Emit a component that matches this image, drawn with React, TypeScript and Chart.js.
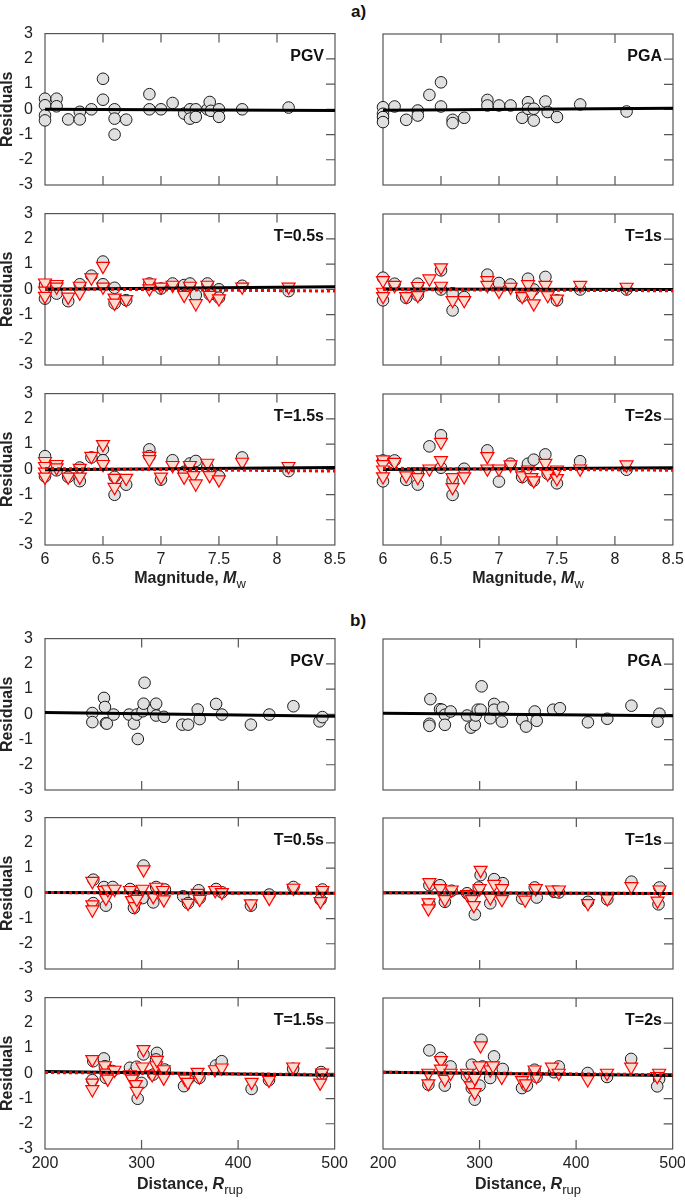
import React, { useEffect, useRef } from 'react';
import { Chart, registerables } from 'chart.js';

Chart.register(...registerables);

type P = [number, number];

const FONT = '"Liberation Sans", Arial, Helvetica, sans-serif';

// ---------- axis ticks ----------
const MAG_RANGE: P = [6, 8.5];
const DIST_RANGE: P = [200, 500];
const MAG_INNER_TICKS = [6.5, 7, 7.5, 8];
const DIST_INNER_TICKS = [300, 400];
const RES_INNER_TICKS = [-2, -1, 0, 1, 2];

// ---------- (a) residuals vs magnitude ----------
const magPgvCircles: P[] = [[6.0,0.42],[6.0,0.16],[6.0,-0.24],[6.0,-0.44],[6.1,0.42],[6.1,0.12],[6.2,-0.4],[6.3,-0.1],[6.3,-0.4],[6.4,0.0],[6.5,1.21],[6.5,0.38],[6.6,0.0],[6.6,-0.37],[6.6,-1.0],[6.7,-0.41],[6.9,0.6],[6.9,0.0],[7.0,0.0],[7.1,0.25],[7.2,-0.17],[7.25,0.0],[7.25,-0.37],[7.3,0.0],[7.3,-0.3],[7.4,0.0],[7.42,0.29],[7.43,-0.06],[7.5,0.0],[7.5,-0.3],[7.7,0.0],[8.1,0.07]];
const magPgvLine: P[] = [[6, 0.0], [8.5, -0.05]];

const magPgaCircles: P[] = [[6.0,0.09],[6.0,-0.17],[6.0,-0.3],[6.0,-0.5],[6.1,0.12],[6.2,-0.41],[6.3,-0.04],[6.3,-0.24],[6.4,0.58],[6.5,1.08],[6.5,0.12],[6.6,-0.41],[6.6,-0.54],[6.7,-0.33],[6.9,0.38],[6.9,0.16],[7.0,0.16],[7.1,0.16],[7.2,-0.33],[7.25,0.29],[7.25,0.03],[7.3,-0.44],[7.3,0.03],[7.4,0.32],[7.42,-0.1],[7.5,-0.3],[7.7,0.2],[8.1,-0.08]];
const magPgaLine: P[] = [[6, -0.03], [8.5, 0.05]];

const magT05Circles: P[] = [[6.0,0.17],[6.0,-0.37],[6.1,-0.17],[6.2,-0.47],[6.3,0.2],[6.4,0.54],[6.5,1.1],[6.5,0.2],[6.6,0.06],[6.6,-0.56],[6.7,-0.43],[6.9,0.23],[7.0,0.03],[7.1,0.23],[7.2,0.17],[7.25,0.23],[7.3,-0.23],[7.4,0.23],[7.42,-0.2],[7.5,0.0],[7.5,-0.33],[7.7,0.14],[8.1,-0.07]];
const magT05Triangles: P[] = [[6.0,0.26],[6.0,-0.06],[6.0,-0.27],[6.1,0.2],[6.1,0.1],[6.2,-0.3],[6.3,0.13],[6.3,-0.14],[6.4,0.46],[6.5,0.92],[6.5,0.1],[6.6,-0.34],[6.6,-0.54],[6.7,-0.4],[6.9,0.26],[6.9,0.03],[7.0,0.1],[7.1,0.17],[7.2,-0.23],[7.25,0.13],[7.3,-0.56],[7.4,0.17],[7.42,-0.23],[7.5,-0.37],[7.7,0.1],[8.1,0.1]];
const magT05Line: P[] = [[6, 0.0], [8.5, 0.1]];
const magT05RedLine: P[] = [[6, 0.02], [8.5, -0.07]];

const magT1Circles: P[] = [[6.0,0.47],[6.0,-0.43],[6.1,0.23],[6.2,-0.33],[6.3,0.23],[6.3,-0.23],[6.5,0.76],[6.5,0.0],[6.6,-0.15],[6.6,-0.83],[6.7,-0.3],[6.9,0.59],[7.0,0.26],[7.1,0.2],[7.2,-0.27],[7.25,0.43],[7.3,0.0],[7.4,0.5],[7.5,-0.43],[7.7,0.0],[8.1,0.0]];
const magT1Triangles: P[] = [[6.0,0.36],[6.0,-0.1],[6.0,-0.27],[6.1,0.17],[6.2,-0.27],[6.3,0.13],[6.3,-0.23],[6.4,0.43],[6.5,0.87],[6.5,0.14],[6.6,-0.43],[6.7,-0.43],[6.9,0.36],[6.9,0.17],[7.0,-0.06],[7.1,0.1],[7.2,-0.27],[7.25,0.2],[7.28,-0.2],[7.3,-0.56],[7.4,0.17],[7.42,-0.23],[7.5,-0.37],[7.7,0.17],[8.1,0.1]];
const magT1Line: P[] = [[6, 0.02], [8.5, 0.0]];
const magT1RedLine: P[] = [[6, 0.0], [8.5, -0.05]];

const magT15Circles: P[] = [[6.0,0.52],[6.0,-0.28],[6.1,-0.04],[6.2,-0.3],[6.3,0.07],[6.3,-0.47],[6.4,0.47],[6.5,0.79],[6.5,0.36],[6.6,-0.3],[6.6,-1.01],[6.7,-0.61],[6.9,0.79],[6.9,0.52],[7.0,-0.41],[7.1,0.36],[7.2,-0.1],[7.25,0.23],[7.3,0.33],[7.4,0.09],[7.5,-0.27],[7.7,0.47],[8.1,-0.07]];
const magT15Triangles: P[] = [[6.0,0.32],[6.0,0.12],[6.0,-0.1],[6.0,-0.3],[6.1,0.2],[6.1,0.07],[6.2,-0.3],[6.3,0.05],[6.3,-0.3],[6.4,0.52],[6.5,0.99],[6.5,0.2],[6.6,-0.35],[6.6,-0.71],[6.7,-0.35],[6.9,0.52],[6.9,0.39],[7.0,-0.3],[7.1,0.16],[7.2,-0.3],[7.25,0.16],[7.28,-0.24],[7.3,-0.57],[7.4,0.25],[7.42,-0.24],[7.5,-0.41],[7.7,0.29],[8.1,0.12]];
const magT15Line: P[] = [[6, -0.02], [8.5, 0.07]];
const magT15RedLine: P[] = [[6, 0.03], [8.5, -0.07]];

const magT2Circles: P[] = [[6.0,0.36],[6.0,-0.47],[6.1,0.36],[6.2,-0.41],[6.3,-0.15],[6.3,-0.6],[6.4,0.92],[6.5,1.36],[6.5,0.07],[6.6,-0.44],[6.6,-1.01],[6.7,0.03],[6.9,0.76],[7.0,-0.48],[7.1,0.23],[7.2,-0.3],[7.25,0.23],[7.3,0.39],[7.3,-0.44],[7.4,0.6],[7.42,-0.17],[7.5,-0.55],[7.7,0.33],[8.1,-0.01]];
const magT2Triangles: P[] = [[6.0,0.39],[6.0,0.2],[6.0,-0.01],[6.0,-0.28],[6.1,0.29],[6.2,-0.24],[6.3,-0.07],[6.3,-0.31],[6.4,0.03],[6.5,1.09],[6.5,0.36],[6.6,-0.31],[6.6,-0.71],[6.7,-0.28],[6.9,0.52],[6.9,0.03],[7.0,0.03],[7.1,0.19],[7.2,-0.24],[7.25,-0.01],[7.28,-0.31],[7.3,-0.44],[7.4,0.25],[7.42,-0.17],[7.5,-0.35],[7.5,-0.01],[7.7,0.03],[8.1,0.19]];
const magT2Line: P[] = [[6, 0.0], [8.5, 0.07]];
const magT2RedLine: P[] = [[6, 0.05], [8.5, -0.03]];

// ---------- (b) residuals vs distance ----------
const distPgvCircles: P[] = [[249,0.05],[249,-0.31],[261,0.65],[262,0.29],[263,-0.35],[264,-0.37],[271,-0.01],[287,-0.01],[292,-0.37],[295,-0.01],[296,-0.98],[301,0.12],[302,0.42],[303,1.25],[312,0.19],[315,0.42],[315,-0.05],[323,-0.1],[342,-0.41],[348,-0.41],[358,0.19],[360,-0.19],[377,0.41],[383,-0.01],[413,-0.41],[432,-0.01],[457,0.32],[484,-0.28],[487,-0.11]];
const distPgvLine: P[] = [[200, 0.07], [500, -0.08]];

const distPgaCircles: P[] = [[249,0.61],[248,-0.37],[248,-0.45],[259,0.21],[261,0.19],[264,-0.01],[264,-0.41],[270,0.12],[287,-0.04],[291,-0.52],[295,-0.41],[296,-0.04],[298,0.19],[301,0.19],[302,1.12],[311,-0.15],[315,0.42],[315,0.19],[323,-0.28],[324,0.28],[344,-0.21],[348,-0.48],[357,0.12],[359,-0.25],[376,0.19],[383,0.25],[412,-0.31],[432,-0.17],[457,0.35],[486,0.03],[484,-0.28]];
const distPgaLine: P[] = [[200, 0.05], [500, -0.05]];

const distT05Circles: P[] = [[250,0.54],[250,-0.39],[261,0.25],[263,-0.49],[270,0.25],[288,0.17],[292,-0.58],[295,-0.12],[301,-0.19],[302,1.1],[312,-0.36],[315,0.25],[324,0.15],[343,-0.12],[348,-0.39],[359,0.12],[360,-0.19],[377,0.17],[383,0.04],[413,-0.49],[432,-0.05],[457,0.25],[487,0.15],[485,-0.25]];
const distT05Triangles: P[] = [[249,0.48],[249,-0.45],[249,-0.65],[261,0.12],[263,-0.19],[265,0.15],[272,0.17],[288,0.12],[290,-0.28],[293,-0.52],[295,-0.23],[301,0.17],[302,0.94],[312,-0.12],[315,0.25],[322,0.12],[323,-0.25],[348,-0.39],[358,0.01],[360,-0.23],[376,0.12],[383,0.04],[413,-0.41],[432,-0.19],[457,0.21],[487,0.12],[485,-0.32]];
const distT05Line: P[] = [[200, 0.03], [500, 0.0]];
const distT05RedLine: P[] = [[200, 0.03], [500, -0.01]];

const distT1Circles: P[] = [[248,0.33],[248,-0.43],[259,0.33],[264,-0.33],[271,0.11],[287,0.01],[291,-0.09],[295,-0.83],[299,0.24],[301,0.73],[311,-0.39],[315,0.57],[324,0.41],[344,-0.2],[357,0.24],[359,-0.16],[377,0.07],[382,0.04],[412,-0.33],[432,-0.23],[457,0.47],[486,0.24],[485,-0.43]];
const distT1Triangles: P[] = [[248,0.44],[247,-0.36],[247,-0.6],[259,0.2],[264,-0.23],[271,0.15],[287,-0.03],[292,-0.23],[294,-0.47],[300,0.2],[301,0.93],[311,-0.16],[315,0.37],[323,0.2],[323,-0.23],[347,-0.25],[358,0.2],[375,0.15],[382,0.15],[412,-0.39],[432,-0.2],[457,0.28],[486,0.15],[484,-0.29]];
const distT1Line: P[] = [[200, 0.03], [500, 0.0]];
const distT1RedLine: P[] = [[200, 0.03], [500, 0.0]];

const distT15Circles: P[] = [[250,0.48],[249,-0.27],[261,0.59],[262,0.28],[263,-0.18],[270,0.09],[288,0.22],[292,0.02],[295,0.26],[296,-1.01],[300,-0.38],[302,0.75],[312,-0.05],[316,0.81],[315,0.55],[324,0.15],[344,-0.51],[348,-0.24],[360,-0.18],[377,0.31],[383,0.48],[414,-0.62],[432,-0.27],[457,0.18],[486,0.05],[487,-0.05]];
const distT15Triangles: P[] = [[249,0.55],[249,-0.38],[249,-0.64],[262,0.31],[263,0.02],[265,-0.22],[272,0.13],[288,-0.05],[290,-0.22],[294,-0.44],[295,-0.71],[301,0.26],[302,0.95],[311,-0.05],[315,0.31],[316,0.52],[323,0.15],[323,-0.18],[345,-0.22],[348,-0.35],[358,0.05],[360,-0.14],[376,0.15],[383,0.22],[414,-0.35],[432,-0.27],[457,0.26],[487,0.02],[485,-0.38]];
const distT15Line: P[] = [[200, 0.07], [500, -0.08]];
const distT15RedLine: P[] = [[200, 0.03], [500, -0.05]];

const distT2Circles: P[] = [[248,0.92],[247,-0.44],[260,0.62],[264,-0.48],[270,0.28],[287,-0.11],[292,0.35],[292,-0.58],[295,-1.04],[300,-0.48],[302,1.34],[303,0.28],[311,-0.18],[315,0.68],[324,0.18],[344,-0.58],[349,-0.48],[357,0.15],[359,-0.14],[377,0.05],[382,0.28],[412,0.02],[432,-0.14],[457,0.58],[486,-0.22],[484,-0.51]];
const distT2Triangles: P[] = [[247,0.02],[247,-0.4],[260,0.52],[260,0.18],[264,-0.22],[270,0.02],[287,0.02],[291,-0.48],[295,-0.18],[295,-0.75],[300,0.31],[301,1.11],[311,0.15],[314,0.31],[323,-0.14],[344,-0.27],[348,-0.4],[357,0.15],[359,-0.11],[375,0.26],[382,0.02],[412,-0.24],[432,0.02],[457,0.26],[486,0.02],[484,-0.11]];
const distT2Line: P[] = [[200, 0.05], [500, -0.08]];
const distT2RedLine: P[] = [[200, 0.05], [500, -0.05]];

// ---------- layout ----------
const PLOT_W = 290;
const PLOT_H = 151;
const Y_AXIS_W = 45;
const X_AXIS_H = 30;
const PAD_TOP = 10;
const PAD_RIGHT = 14;
const COL_LEFT = [45, 383];

const framePlugin = {
  id: 'frame',
  beforeDatasetsDraw(chart: any, _args: any, opts: any) {
    const { ctx, chartArea } = chart;
    const { left, right, top, bottom } = chartArea;
    const xs = chart.scales.x;
    const ys = chart.scales.y;
    ctx.save();
    ctx.strokeStyle = '#555555';
    ctx.lineWidth = 1.2;
    ctx.strokeRect(left, top, right - left, bottom - top);
    ctx.beginPath();
    for (const v of opts.xTicks || []) {
      const px = xs.getPixelForValue(v);
      ctx.moveTo(px, top);
      ctx.lineTo(px, top + 9);
      ctx.moveTo(px, bottom);
      ctx.lineTo(px, bottom - 9);
    }
    for (const v of opts.yTicks || []) {
      const py = ys.getPixelForValue(v);
      ctx.moveTo(right, py);
      ctx.lineTo(right - 9, py);
    }
    ctx.stroke();
    ctx.restore();
  },
};

interface PanelProps {
  col: number;
  plotTop: number;
  kind: 'mag' | 'dist';
  label: string;
  circles: P[];
  triangles?: P[];
  line: P[];
  redLine?: P[];
  showX: boolean;
}

function Panel(props: PanelProps) {
  const ref = useRef<HTMLCanvasElement | null>(null);
  const plotLeft = COL_LEFT[props.col];
  const showY = props.col === 0;
  const cw = Y_AXIS_W + PLOT_W + PAD_RIGHT;
  const ch = PAD_TOP + PLOT_H + X_AXIS_H;

  useEffect(() => {
    const canvas = ref.current;
    if (!canvas) return;
    const toPts = (a: P[]) => a.map(([x, y]) => ({ x, y }));
    const datasets: any[] = [];
    if (props.redLine) {
      datasets.push({
        data: toPts(props.redLine), showLine: true, pointRadius: 0,
        borderColor: '#ff0000', borderWidth: 3, borderDash: [3, 3], order: 1, clip: false,
      });
    }
    datasets.push({
      data: toPts(props.line), showLine: true, pointRadius: 0,
      borderColor: '#000000', borderWidth: 3, order: 2, clip: false,
    });
    if (props.triangles) {
      datasets.push({
        data: toPts(props.triangles), pointStyle: 'triangle', pointRotation: 180,
        pointRadius: 7.5, pointHoverRadius: 7.5, backgroundColor: '#fcdccf', borderColor: '#ff0000',
        borderWidth: 1.2, order: 3, clip: false,
      });
    }
    datasets.push({
      data: toPts(props.circles), pointStyle: 'circle', pointRadius: 5.8, pointHoverRadius: 5.8,
      backgroundColor: '#e0e0e0', borderColor: '#1a1a1a', borderWidth: 1, order: 4, clip: false,
    });
    const range = props.kind === 'mag' ? MAG_RANGE : DIST_RANGE;
    const chart = new Chart(canvas, {
      type: 'scatter',
      data: { datasets },
      options: {
        animation: false,
        responsive: false,
        maintainAspectRatio: false,
        devicePixelRatio: 1,
        events: [],
        layout: { padding: { left: 0, top: PAD_TOP, right: PAD_RIGHT, bottom: 0 } },
        plugins: {
          legend: { display: false },
          tooltip: { enabled: false },
          frame: {
            xTicks: props.kind === 'mag' ? MAG_INNER_TICKS : DIST_INNER_TICKS,
            yTicks: RES_INNER_TICKS,
          },
        } as any,
        scales: {
          x: {
            type: 'linear',
            min: range[0],
            max: range[1],
            afterFit: (s: any) => { s.height = X_AXIS_H; },
            grid: { display: false, drawTicks: false },
            border: { display: false },
            ticks: {
              display: props.showX,
              stepSize: props.kind === 'mag' ? 0.5 : 100,
              padding: 5,
              autoSkip: false,
              maxRotation: 0,
              color: '#222',
              font: { family: FONT, size: 16 },
              callback: (v: any) => String(Number(v)),
            },
          },
          y: {
            type: 'linear',
            min: -3,
            max: 3,
            afterFit: (s: any) => { s.width = Y_AXIS_W; },
            grid: { display: false, drawTicks: false },
            border: { display: false },
            ticks: {
              display: showY,
              stepSize: 1,
              padding: 12,
              color: '#222',
              font: { family: FONT, size: 16 },
            },
            title: {
              display: showY,
              text: 'Residuals',
              color: '#222',
              padding: 0,
              font: { family: FONT, size: 16, weight: 'bold', lineHeight: 1 },
            },
          },
        },
      } as any,
      plugins: [framePlugin],
    });
    // make the plot area exactly PLOT_W x PLOT_H and align it to its place on the page
    const ca = chart.chartArea;
    const nw = Math.round(cw + (PLOT_W - (ca.right - ca.left)));
    const nh = Math.round(ch + (PLOT_H - (ca.bottom - ca.top)));
    if (nw !== cw || nh !== ch) chart.resize(nw, nh);
    const ca2 = chart.chartArea;
    canvas.style.left = `${Math.round(plotLeft - ca2.left)}px`;
    canvas.style.top = `${Math.round(props.plotTop - ca2.top)}px`;
    return () => chart.destroy();
  }, []);

  return (
    <>
      <canvas
        ref={ref}
        width={cw}
        height={ch}
        style={{ position: 'absolute', left: plotLeft - Y_AXIS_W, top: props.plotTop - PAD_TOP, width: cw, height: ch }}
      />
      <div
        style={{
          position: 'absolute', left: plotLeft + PLOT_W - 11, top: props.plotTop + 22,
          transform: 'translate(-100%, -50%)', font: `bold 16px ${FONT}`, lineHeight: '1',
          color: '#111', whiteSpace: 'nowrap',
        }}
      >
        {props.label}
      </div>
    </>
  );
}

function XTitle(props: { cx: number; cy: number; main: string; sym: string; sub: string }) {
  return (
    <div
      style={{
        position: 'absolute', left: props.cx, top: props.cy, transform: 'translate(-50%, -50%)',
        font: `bold 16px ${FONT}`, lineHeight: '1', color: '#222', whiteSpace: 'nowrap',
      }}
    >
      {props.main}
      <i>{props.sym}</i>
      <span style={{ fontWeight: 'normal', fontSize: 13, position: 'relative', top: 5 }}>{props.sub}</span>
    </div>
  );
}

export default function App() {
  const A = [34, 214, 394];
  const B = [639, 818, 998];
  return (
    <div style={{ position: 'absolute', left: 0, top: 0, width: 685, height: 1201, background: '#fff', overflow: 'hidden' }}>
      <div style={{ position: 'absolute', left: 351, top: 11, transform: 'translateY(-50%)', font: `bold 17px ${FONT}`, lineHeight: '1', color: '#111' }}>a)</div>
      <div style={{ position: 'absolute', left: 350, top: 620, transform: 'translateY(-50%)', font: `bold 17px ${FONT}`, lineHeight: '1', color: '#111' }}>b)</div>

      <Panel col={0} plotTop={A[0]} kind="mag" label="PGV" circles={magPgvCircles} line={magPgvLine} showX={false} />
      <Panel col={1} plotTop={A[0]} kind="mag" label="PGA" circles={magPgaCircles} line={magPgaLine} showX={false} />
      <Panel col={0} plotTop={A[1]} kind="mag" label="T=0.5s" circles={magT05Circles} triangles={magT05Triangles} line={magT05Line} redLine={magT05RedLine} showX={false} />
      <Panel col={1} plotTop={A[1]} kind="mag" label="T=1s" circles={magT1Circles} triangles={magT1Triangles} line={magT1Line} redLine={magT1RedLine} showX={false} />
      <Panel col={0} plotTop={A[2]} kind="mag" label="T=1.5s" circles={magT15Circles} triangles={magT15Triangles} line={magT15Line} redLine={magT15RedLine} showX={true} />
      <Panel col={1} plotTop={A[2]} kind="mag" label="T=2s" circles={magT2Circles} triangles={magT2Triangles} line={magT2Line} redLine={magT2RedLine} showX={true} />
      <XTitle cx={190} cy={578} main="Magnitude, " sym="M" sub="w" />
      <XTitle cx={528} cy={578} main="Magnitude, " sym="M" sub="w" />

      <Panel col={0} plotTop={B[0]} kind="dist" label="PGV" circles={distPgvCircles} line={distPgvLine} showX={false} />
      <Panel col={1} plotTop={B[0]} kind="dist" label="PGA" circles={distPgaCircles} line={distPgaLine} showX={false} />
      <Panel col={0} plotTop={B[1]} kind="dist" label="T=0.5s" circles={distT05Circles} triangles={distT05Triangles} line={distT05Line} redLine={distT05RedLine} showX={false} />
      <Panel col={1} plotTop={B[1]} kind="dist" label="T=1s" circles={distT1Circles} triangles={distT1Triangles} line={distT1Line} redLine={distT1RedLine} showX={false} />
      <Panel col={0} plotTop={B[2]} kind="dist" label="T=1.5s" circles={distT15Circles} triangles={distT15Triangles} line={distT15Line} redLine={distT15RedLine} showX={true} />
      <Panel col={1} plotTop={B[2]} kind="dist" label="T=2s" circles={distT2Circles} triangles={distT2Triangles} line={distT2Line} redLine={distT2RedLine} showX={true} />
      <XTitle cx={190} cy={1184} main="Distance, " sym="R" sub="rup" />
      <XTitle cx={528} cy={1184} main="Distance, " sym="R" sub="rup" />
    </div>
  );
}
